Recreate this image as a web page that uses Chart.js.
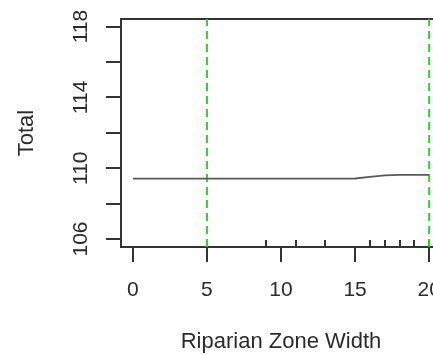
<!DOCTYPE html>
<html lang="en">
<head>
    <meta charset="UTF-8">
    <title>Total vs Riparian Zone Width</title>
    <style>
        html, body { margin: 0; padding: 0; overflow: hidden; background: #fff; }
    </style>
</head>
<body>
<canvas id="effectChart" width="450" height="355"></canvas>

<script src="https://cdn.jsdelivr.net/npm/chart.js"></script>
<script>
// fitted curve
var zoneWidth = [0, 1, 2, 3, 4, 5, 6, 7, 8, 9, 10, 11, 12, 13, 14, 15, 16, 17, 18, 19, 20];
var totalFit  = [109.41, 109.41, 109.41, 109.41, 109.41, 109.41, 109.41, 109.41, 109.41, 109.41,
                 109.41, 109.41, 109.41, 109.41, 109.41, 109.42, 109.51, 109.60, 109.62, 109.62, 109.62];

// cut-off markers and rug of observed widths
var cutoffs = [5, 20];
var rugX = [9, 11, 13, 16, 17, 18, 19, 20];

// axis ticks
var xTicks = [0, 5, 10, 15, 20];
var yTicks = [106, 108, 110, 112, 114, 116, 118];
var yLabels = [106, 110, 114, 118];

var X_MIN = -0.8, X_MAX = 20.8;
var Y_MIN = 105.55, Y_MAX = 118.43;

var FONT = '"Liberation Sans", Arial, Helvetica, sans-serif';
var INK = '#2b2b2b';

var datasets = [{
    label: 'Total',
    data: zoneWidth.map(function(w, i) { return {x: w, y: totalFit[i]}; }),
    showLine: true,
    borderColor: '#595959',
    borderWidth: 1.8,
    pointRadius: 0,
    tension: 0
}];

cutoffs.forEach(function(c) {
    datasets.push({
        label: 'cutoff ' + c,
        data: [{x: c, y: Y_MIN}, {x: c, y: Y_MAX}],
        showLine: true,
        borderColor: '#2fd22f',
        borderWidth: 2,
        borderDash: [8, 5],
        pointRadius: 0
    });
});

// base-graphics style axes: box, outward ticks, rotated y labels, rug
var baseAxes = {
    id: 'baseAxes',
    beforeDatasetsDraw: function(chart) {
        var ctx = chart.ctx, a = chart.chartArea;
        var x = chart.scales.x, y = chart.scales.y;
        ctx.save();
        ctx.strokeStyle = '#333';
        ctx.lineWidth = 2;

        ctx.beginPath();
        ctx.moveTo(chart.width, a.top);
        ctx.lineTo(a.left, a.top);
        ctx.lineTo(a.left, a.bottom);
        ctx.lineTo(chart.width, a.bottom);
        ctx.stroke();

        ctx.beginPath();
        yTicks.forEach(function(v) {
            var py = Math.round(y.getPixelForValue(v));
            ctx.moveTo(a.left - 15, py);
            ctx.lineTo(a.left, py);
        });
        xTicks.forEach(function(v) {
            var px = Math.round(x.getPixelForValue(v));
            ctx.moveTo(px, a.bottom);
            ctx.lineTo(px, a.bottom + 15);
        });
        rugX.forEach(function(v) {
            var px = Math.round(x.getPixelForValue(v));
            ctx.moveTo(px, a.bottom);
            ctx.lineTo(px, a.bottom - 7);
        });
        ctx.stroke();

        ctx.fillStyle = INK;
        ctx.textAlign = 'center';
        ctx.textBaseline = 'middle';
        ctx.font = '21px ' + FONT;
        xTicks.forEach(function(v) {
            ctx.fillText(String(v), x.getPixelForValue(v), 290);
        });
        yLabels.forEach(function(v) {
            ctx.save();
            ctx.translate(81, y.getPixelForValue(v));
            ctx.rotate(-Math.PI / 2);
            ctx.fillText(String(v), 0, 0);
            ctx.restore();
        });

        ctx.font = '22px ' + FONT;
        ctx.fillText('Riparian Zone Width', (a.left + a.right) / 2, 342);
        ctx.save();
        ctx.translate(27, (a.top + a.bottom) / 2);
        ctx.rotate(-Math.PI / 2);
        ctx.fillText('Total', 0, 0);
        ctx.restore();

        ctx.restore();
    }
};

var ctx = document.getElementById('effectChart');
var effectChart = new Chart(ctx.getContext('2d'), {
    type: 'scatter',
    data: { datasets: datasets },
    options: {
        responsive: false,
        animation: false,
        layout: { padding: { left: 121, right: 9, top: 19, bottom: 108 } },
        scales: {
            x: { type: 'linear', min: X_MIN, max: X_MAX, display: false },
            y: { type: 'linear', min: Y_MIN, max: Y_MAX, display: false }
        },
        plugins: {
            legend: { display: false },
            title: { display: false },
            tooltip: { enabled: false }
        }
    },
    plugins: [baseAxes]
});
</script>
</body>
</html>
